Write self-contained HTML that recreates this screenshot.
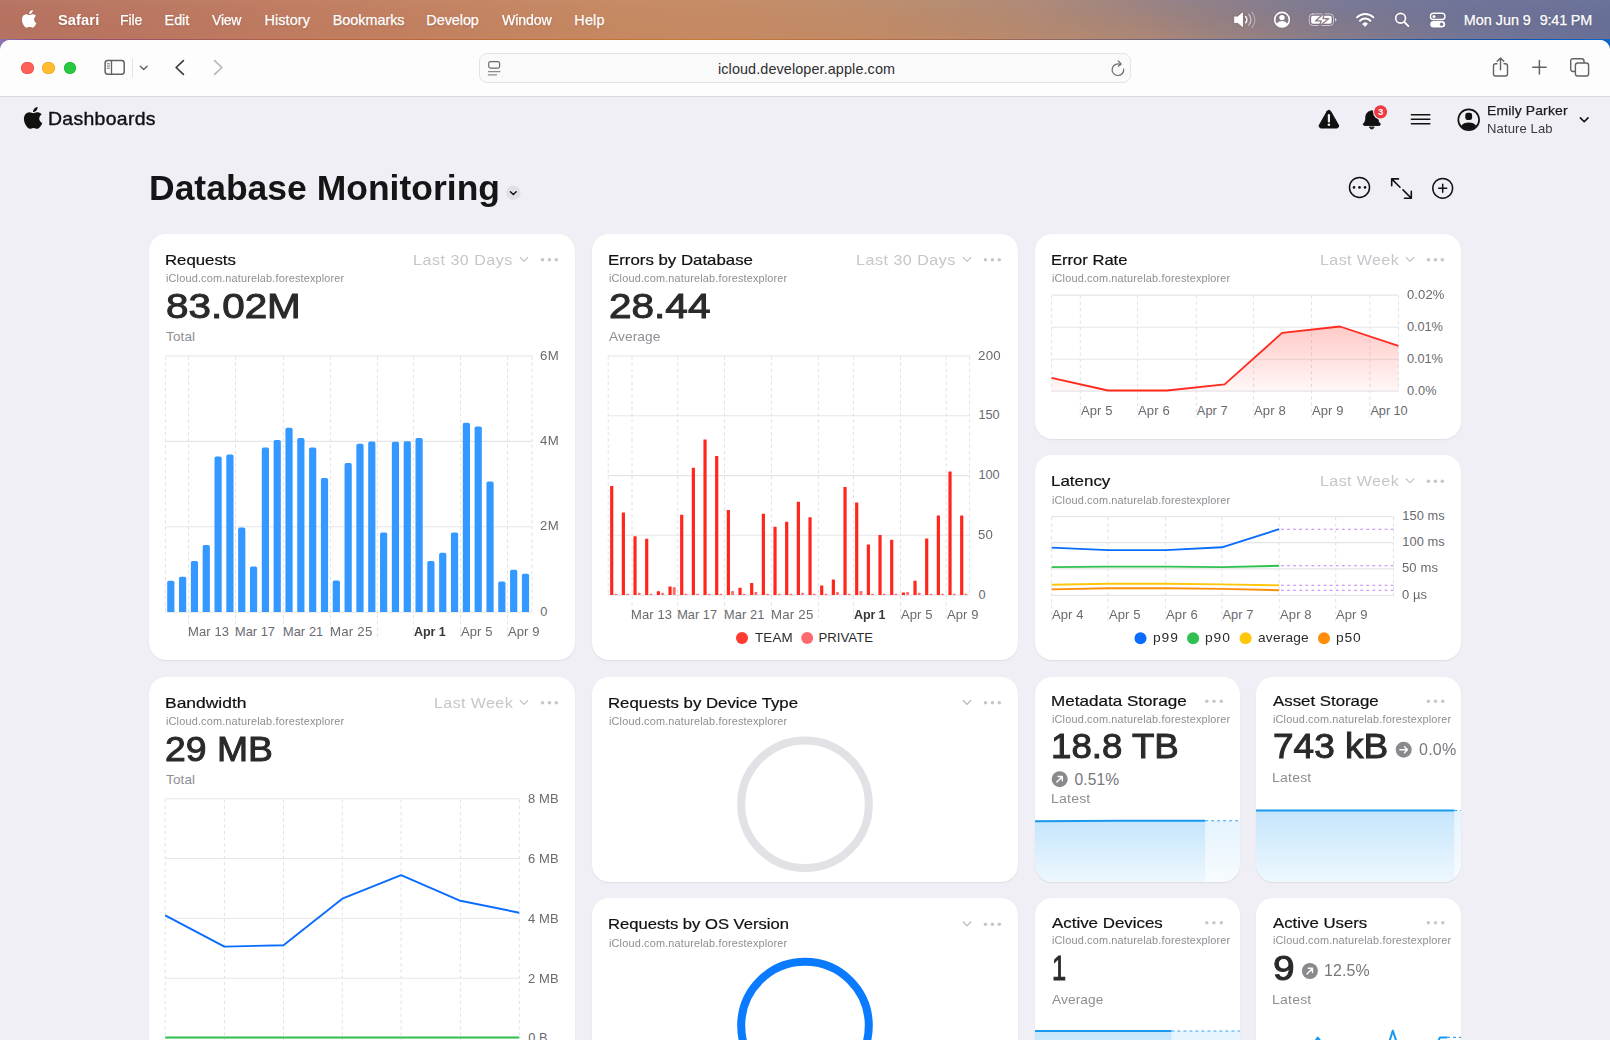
<!DOCTYPE html>
<html lang="en">
<head>
<meta charset="utf-8">
<title>Database Monitoring – Dashboards</title>
<style>
*{box-sizing:border-box;margin:0;padding:0}
html,body{width:1610px;height:1040px;overflow:hidden}
body{position:relative;font-family:"Liberation Sans",sans-serif;background:#f0eff5;color:#1d1d1f;-webkit-font-smoothing:antialiased}
.t{position:absolute;white-space:nowrap;display:block}
svg{position:absolute;overflow:visible}
.menubar{position:absolute;left:0;top:0;width:1610px;height:39px;
 background:linear-gradient(180deg,rgba(255,255,255,.03),rgba(255,255,255,0) 45%,rgba(0,0,0,.04)),linear-gradient(90deg,#b67261 0px,#c07c60 300px,#c68962 620px,#c38b65 750px,#bb8b6c 880px,#ae8876 1030px,#8f7e86 1190px,#757695 1350px,#6d7297 1450px,#686f96 1610px)}
.menubar::before{content:"";position:absolute;left:0;top:0;width:100%;height:100%;background:linear-gradient(90deg,#b67261 0px,#c07c60 300px,#c68962 620px,#c38b65 860px,#bb8b6c 990px,#ae8876 1140px,#8f7e86 1300px,#757695 1460px,#6d7297 1560px,#686f96 1610px);-webkit-mask-image:linear-gradient(180deg,transparent 0,#000 100%);mask-image:linear-gradient(180deg,transparent 0,#000 100%)}
.wall{position:absolute;left:0;top:39px;width:1610px;height:14px;background:linear-gradient(90deg,#8a72b6 0,#8a4a80 40px,#b8643c 330px,#c87a30 700px,#a06a58 1000px,#3a5fa0 1300px,#0a4fa8 1500px,#0d66cc 1610px)}
.window{position:absolute;left:0;top:40px;width:1610px;height:1000px;background:#f0eff5;border-radius:10px 10px 0 0;overflow:hidden}
.toolbar{position:absolute;left:0;top:0;width:100%;height:57px;background:#fdfdfd;border-bottom:1px solid #d9d9dc}
.tl{position:absolute;top:21.5px;width:12.5px;height:12.5px;border-radius:50%}
.urlbar{position:absolute;left:479px;top:13px;width:652px;height:30px;border-radius:8px;background:#fafafa;border:1px solid #e3e3e5}
.page{position:absolute;left:0;top:0;width:1610px;height:1040px;overflow:hidden}
.card{position:absolute;background:#fff;border-radius:17px;box-shadow:0 1px 1.5px rgba(0,0,0,.075),0 0 1px rgba(0,0,0,.04);overflow:hidden}

.menubar .t{text-shadow:0 0.5px 2px rgba(60,20,10,.22)}
.menubar svg{filter:drop-shadow(0 0.5px 1px rgba(60,20,10,.18))}

</style>
</head>
<body>
<div class="wall"></div>
<div class="menubar">
<svg style="left:21.700px;top:9.700px" width="14.600" height="17.800" viewBox="2.300 0 19.600 24" preserveAspectRatio="none"><path fill="#fff" d="M12.152 6.896c-.948 0-2.415-1.078-3.96-1.04-2.04.027-3.91 1.183-4.961 3.014-2.117 3.675-.546 9.103 1.519 12.09 1.013 1.454 2.208 3.09 3.792 3.039 1.52-.065 2.09-.987 3.935-.987 1.831 0 2.35.987 3.96.948 1.637-.026 2.676-1.48 3.676-2.948 1.156-1.688 1.636-3.325 1.662-3.415-.039-.013-3.182-1.221-3.22-4.857-.026-3.04 2.48-4.494 2.597-4.559-1.429-2.09-3.623-2.324-4.39-2.376-2-.156-3.675 1.09-4.61 1.09zM15.53 3.83c.843-1.012 1.4-2.427 1.245-3.83-1.207.052-2.662.805-3.532 1.818-.78.896-1.454 2.338-1.273 3.714 1.338.104 2.715-.688 3.559-1.701"/></svg>
<span class="t" id="t1" style="top:11.96px;font-size:14.40px;line-height:16px;color:#fff;font-weight:700;letter-spacing:0.094px;left:57.70px;transform-origin:0 50%;transform:scaleX(1.0185);">Safari</span>
<span class="t" id="t2" style="top:11.96px;font-size:14.40px;line-height:16px;color:#fff;letter-spacing:-0.128px;-webkit-text-stroke:0.25px #fff;left:119.75px;transform-origin:0 50%;transform:scaleX(0.9750);">File</span>
<span class="t" id="t3" style="top:12px;font-size:14.40px;line-height:16px;color:#fff;letter-spacing:-0.050px;-webkit-text-stroke:0.25px #fff;left:164.62px;">Edit</span>
<span class="t" id="t4" style="top:11.96px;font-size:14.40px;line-height:16px;color:#fff;letter-spacing:-0.204px;-webkit-text-stroke:0.25px #fff;left:212.12px;transform-origin:0 50%;transform:scaleX(0.9719);">View</span>
<span class="t" id="t5" style="top:12px;font-size:14.40px;line-height:16px;color:#fff;letter-spacing:0.112px;-webkit-text-stroke:0.25px #fff;left:264.43px;">History</span>
<span class="t" id="t6" style="top:12px;font-size:14.40px;line-height:16px;color:#fff;letter-spacing:-0.016px;-webkit-text-stroke:0.25px #fff;left:332.73px;">Bookmarks</span>
<span class="t" id="t7" style="top:12px;font-size:14.40px;line-height:16px;color:#fff;letter-spacing:-0.041px;-webkit-text-stroke:0.25px #fff;left:426.32px;">Develop</span>
<span class="t" id="t8" style="top:11.96px;font-size:14.40px;line-height:16px;color:#fff;letter-spacing:-0.117px;-webkit-text-stroke:0.25px #fff;left:502.12px;transform-origin:0 50%;transform:scaleX(0.9834);">Window</span>
<span class="t" id="t9" style="top:12px;font-size:14.40px;line-height:16px;color:#fff;letter-spacing:0.186px;-webkit-text-stroke:0.25px #fff;left:574.33px;">Help</span>
<span class="t" id="t10" style="top:12px;font-size:14.40px;line-height:16px;color:#fff;letter-spacing:-0.005px;-webkit-text-stroke:0.25px #fff;left:1463.72px;">Mon Jun 9</span>
<span class="t" id="t11" style="top:12px;font-size:14.40px;line-height:16px;color:#fff;letter-spacing:-0.176px;-webkit-text-stroke:0.25px #fff;left:1539.72px;">9:41 PM</span>
<svg style="left:0;top:0" width="1610" height="40" viewBox="0 0 1610 40" fill="none" stroke="#fff" stroke-linecap="round" stroke-linejoin="round">
<!-- volume -->
<path d="M1234.6 17h3.2l4.6-4v13.4l-4.6-4h-3.2z" fill="#fff" stroke-width="1"/>
<path d="M1245.6 16.6a4.5 4.5 0 0 1 0 6.2" stroke-width="1.5"/>
<path d="M1248.8 14.3a8 8 0 0 1 0 10.8" stroke-width="1.4" opacity=".55"/>
<path d="M1252 12.2a11.2 11.2 0 0 1 0 15" stroke-width="1.3" opacity=".35"/>
<!-- user -->
<circle cx="1282" cy="19.7" r="7.3" stroke-width="1.6"/>
<circle cx="1282" cy="17.6" r="2.7" fill="#fff" stroke="none"/>
<path d="M1276.6 24.2c1-2.4 3-3.3 5.4-3.3s4.4.9 5.400 3.300c-1.400 1.600-3.300 2.500-5.400 2.500s-4-.9-5.400-2.500z" fill="#fff" stroke="none"/>
<!-- battery -->
<rect x="1309.300" y="13.9" width="24.200" height="11.600" rx="3.400" stroke-width="1" opacity=".6"/>
<rect x="1311.100" y="15.700" width="20.600" height="8" rx="1.900" fill="#fff" stroke="none"/>
<path d="M1335 18v3.400c1.100-.3 1.500-1 1.500-1.700s-.4-1.400-1.500-1.700z" fill="#fff" stroke="none" opacity=".7"/>
<path d="M1324.400 13.100l-9 7.800h5.800l-2.100 5.600 9.700-7.900h-5.800z" fill="#fff" stroke="#8b7b8b" stroke-width="1.300" stroke-linejoin="round"/>
<!-- wifi -->
<path d="M1357 17.400a11.800 11.800 0 0 1 16.400 0" stroke-width="2"/>
<path d="M1360 20.700a7.500 7.500 0 0 1 10.400 0" stroke-width="2"/>
<path d="M1362.900 23.700a3.300 3.300 0 0 1 4.600 0l-2.300 2.500z" fill="#fff" stroke-width="1"/>
<!-- search -->
<circle cx="1400.600" cy="18.300" r="4.900" stroke-width="1.700"/>
<path d="M1404.300 22l4.100 4.100" stroke-width="1.900"/>
<!-- control centre -->
<rect x="1430.400" y="13.300" width="14.600" height="6.200" rx="3.100" stroke-width="1.400"/>
<circle cx="1434" cy="16.400" r="1.500" fill="#fff" stroke="none"/>
<rect x="1430.200" y="20.900" width="15" height="6.600" rx="3.300" fill="#fff" stroke="none"/>
<circle cx="1441.600" cy="24.200" r="1.700" fill="#77769a" stroke="none"/>
</svg>
</div>
<div class="window">
<header class="toolbar">
<i class="tl" style="left:21.2px;background:#fe5f57;box-shadow:inset 0 0 0 .5px #e2463f"></i>
<i class="tl" style="left:42.3px;background:#febc2e;box-shadow:inset 0 0 0 .5px #dea123"></i>
<i class="tl" style="left:63.6px;background:#28c840;box-shadow:inset 0 0 0 .5px #1dad2b"></i>
<svg style="left:0;top:0" width="1610" height="56" viewBox="0 40 1610 56" fill="none" stroke="#626266" stroke-width="1.500" stroke-linecap="round" stroke-linejoin="round">
<!-- sidebar -->
<rect x="105.100" y="60.600" width="19.100" height="13.600" rx="2.600"/>
<path d="M111.500 60.600v13.600" stroke-width="1.300"/>
<path d="M107.300 63.800h2.200M107.300 66h2.200M107.300 68.200h2.200" stroke-width=".9"/>
<path d="M132.500 59v18.300" stroke="#e3e3e5" stroke-width="1"/>
<path d="M140.300 66.200l3.400 3.400 3.400-3.400" stroke-width="1.400"/>
<path d="M183.400 60.600l-7.300 6.900 7.300 6.900" stroke="#3c3c3e" stroke-width="1.700"/>
<path d="M214.600 60.600l7.300 6.900-7.300 6.900" stroke="#b9b9bb" stroke-width="1.700"/>
<!-- share -->
<path d="M1497 63.700h-1.500a2 2 0 0 0-2 2v8.300a2 2 0 0 0 2 2h10a2 2 0 0 0 2-2v-8.300a2 2 0 0 0-2-2h-1.500" stroke-width="1.400"/>
<path d="M1500.500 69.700v-11.400M1497.200 61.300l3.300-3.200 3.300 3.200" stroke-width="1.400"/>
<!-- plus -->
<path d="M1532.700 67.300h13.400M1539.400 60.600v13.400" stroke-width="1.500"/>
<!-- tabs -->
<path d="M1575.200 71.500h-2.300a2.200 2.200 0 0 1-2.200-2.200v-8.400a2.200 2.200 0 0 1 2.200-2.200h8.900a2.200 2.200 0 0 1 2.200 2.200v1.900" stroke-width="1.400"/>
<rect x="1575.400" y="63" width="13.200" height="13" rx="2.300" stroke-width="1.400"/>
</svg>
<div class="urlbar">
<svg style="left:-1px;top:-1px" width="652" height="30" viewBox="479 53 652 30" fill="none" stroke="#6b6b6d" stroke-width="1.200" stroke-linecap="round">
<rect x="488.700" y="61.700" width="10.900" height="6.400" rx="1.800"/>
<path d="M488.400 71.600h11.500M488.400 74.800h8.200" stroke="#8a8a8c" stroke-width="1.300"/>
<path d="M1123.700 69a5.800 5.800 0 1 1-3-4.400" stroke-width="1.200"/>
<path d="M1118.200 60.900l2.900 3.100-2.800 2.400" stroke-width="1.200" stroke-linejoin="round"/>
</svg>
<span class="t" id="t12" style="top:7px;font-size:14.40px;line-height:16px;color:#2e2e30;letter-spacing:0.103px;left:238.00px;">icloud.developer.apple.com</span>
</div>
</header>
</div>
<main class="page">
<nav class="appbar">
<svg style="left:23.700px;top:106.800px" width="18.400" height="21.800" viewBox="2.300 0 19.600 24" preserveAspectRatio="none"><path fill="#111" d="M12.152 6.896c-.948 0-2.415-1.078-3.96-1.04-2.04.027-3.91 1.183-4.961 3.014-2.117 3.675-.546 9.103 1.519 12.09 1.013 1.454 2.208 3.09 3.792 3.039 1.52-.065 2.09-.987 3.935-.987 1.831 0 2.35.987 3.96.948 1.637-.026 2.676-1.48 3.676-2.948 1.156-1.688 1.636-3.325 1.662-3.415-.039-.013-3.182-1.221-3.22-4.857-.026-3.04 2.48-4.494 2.597-4.559-1.429-2.09-3.623-2.324-4.39-2.376-2-.156-3.675 1.09-4.61 1.09zM15.53 3.83c.843-1.012 1.4-2.427 1.245-3.83-1.207.052-2.662.805-3.532 1.818-.78.896-1.454 2.338-1.273 3.714 1.338.104 2.715-.688 3.559-1.701"/></svg>
<span class="t" id="t13" style="top:108.16px;font-size:18.60px;line-height:21px;color:#111113;letter-spacing:0.308px;-webkit-text-stroke:0.40px #111113;left:47.97px;transform-origin:0 50%;transform:scaleX(1.0437);">Dashboards</span>
<svg style="left:0;top:0" width="1610" height="220" viewBox="0 0 1610 220" fill="none" stroke="#111" stroke-linecap="round" stroke-linejoin="round">
<!-- warning -->
<path d="M1327.100 111.400l-7.700 13.600a2 2 0 0 0 1.700 3h15.600a2 2 0 0 0 1.700-3l-7.700-13.600a2 2 0 0 0-3.600 0z" fill="#111" stroke-width="1"/>
<path d="M1328.900 115.200v6.200" stroke="#f0eff5" stroke-width="2.200"/>
<circle cx="1328.900" cy="124.800" r="1.300" fill="#f0eff5" stroke="none"/>
<!-- bell -->
<path d="M1371.800 111c-3.700 0-6 2.800-6 6.400 0 3.600-1.100 5-2.200 6.200-.6.700-.2 1.800.8 1.800h14.800c1 0 1.400-1.100.8-1.800-1.100-1.200-2.200-2.600-2.200-6.200 0-3.600-2.300-6.400-6-6.400z" fill="#111" stroke-width="1"/>
<path d="M1369.500 127.300a2.400 2.400 0 0 0 4.600 0z" fill="#111" stroke-width=".8"/>
<circle cx="1380.600" cy="111.800" r="7.600" fill="#f0eff5" stroke="none"/>
<circle cx="1380.600" cy="111.800" r="6.600" fill="#ee3b43" stroke="none"/>
<!-- hamburger -->
<path d="M1411.400 114.700h18.400M1411.400 119.200h18.400M1411.400 123.700h18.400" stroke-width="1.500"/>
<!-- avatar -->
<circle cx="1468.700" cy="119.700" r="10.400" stroke-width="1.700"/>
<rect x="1465.300" y="112.700" width="6.800" height="7.400" rx="2.400" fill="#111" stroke="none"/>
<path d="M1461 126.100c1.600-2.600 4.400-3.600 7.700-3.600s6.100 1 7.700 3.600c-1.900 2.400-4.700 3.700-7.700 3.700s-5.800-1.300-7.700-3.700z" fill="#111" stroke="none"/>
<path d="M1580.400 117.900l3.800 3.800 3.800-3.800" stroke-width="1.600"/>
<!-- title chevron -->
<circle cx="513.300" cy="192.700" r="7.300" fill="#dfdfe4" stroke="none"/>
<path d="M510.400 191.700l2.900 2.900 2.900-2.900" stroke-width="1.400"/>
<!-- more / expand / add -->
<circle cx="1359.500" cy="187.400" r="10" stroke-width="1.500"/>
<circle cx="1354" cy="187.400" r="1.300" fill="#111" stroke="none"/><circle cx="1359.500" cy="187.400" r="1.300" fill="#111" stroke="none"/><circle cx="1365" cy="187.400" r="1.300" fill="#111" stroke="none"/>
<path d="M1400 187.200l-8.100-8.100M1391.700 185.700v-6.800h6.800" stroke-width="1.600"/>
<path d="M1403 189.900l8.100 8.100M1411.300 191.400v6.800h-6.800" stroke-width="1.600"/>
<circle cx="1442.700" cy="188.300" r="9.900" stroke-width="1.500"/>
<path d="M1438.700 188.300h8M1442.700 184.300v8" stroke-width="1.500"/>
</svg>
<span class="t" id="t14" style="top:106px;font-size:9.50px;line-height:11px;color:#fff;font-weight:700;left:1380.60px;transform:translateX(-50%);">3</span>
<span class="t" id="t15" style="top:103.03px;font-size:13.50px;line-height:15px;color:#1d1d1f;letter-spacing:0.142px;-webkit-text-stroke:0.25px #1d1d1f;left:1487.40px;transform-origin:0 50%;transform:scaleX(1.0317);">Emily Parker</span>
<span class="t" id="t16" style="top:122.15px;font-size:12.70px;line-height:14px;color:#3a3a3c;letter-spacing:0.120px;left:1487.27px;transform-origin:0 50%;transform:scaleX(1.0270);">Nature Lab</span>
</nav>
<span class="t" id="t17" style="top:167.9px;font-size:35.00px;line-height:39px;color:#151517;font-weight:700;left:149.17px;transform-origin:0 50%;transform:scaleX(1.0141);">Database Monitoring</span>
<section class="card" aria-label="Requests" style="left:149px;top:234px;width:426px;height:426px">
<svg style="left:0;top:0" width="426" height="426" viewBox="149 234 426 426">
<circle cx="542.5" cy="259.7" r="1.80" fill="#c6c6cb"/>
<circle cx="549.4" cy="259.7" r="1.80" fill="#c6c6cb"/>
<circle cx="556.3" cy="259.7" r="1.80" fill="#c6c6cb"/>
<path d="M520.3 257.5l3.700 3.900 3.700-3.900" fill="none" stroke="#c6c6cb" stroke-width="1.300" stroke-linecap="round" stroke-linejoin="round"/>
<path d="M165.4 356.5V612.7" stroke="#e0e0e6" stroke-width="1" stroke-dasharray="3.200 3.100" fill="none"/>
<path d="M188.6 356.5V638.7" stroke="#e0e0e6" stroke-width="1" stroke-dasharray="3.200 3.100" fill="none"/>
<path d="M235.5 356.5V638.7" stroke="#e0e0e6" stroke-width="1" stroke-dasharray="3.200 3.100" fill="none"/>
<path d="M283.4 356.5V638.7" stroke="#e0e0e6" stroke-width="1" stroke-dasharray="3.200 3.100" fill="none"/>
<path d="M330.4 356.5V638.7" stroke="#e0e0e6" stroke-width="1" stroke-dasharray="3.200 3.100" fill="none"/>
<path d="M377.4 356.5V638.7" stroke="#e0e0e6" stroke-width="1" stroke-dasharray="3.200 3.100" fill="none"/>
<path d="M413.6 356.5V638.7" stroke="#e0e0e6" stroke-width="1" stroke-dasharray="3.200 3.100" fill="none"/>
<path d="M460.5 356.5V638.7" stroke="#e0e0e6" stroke-width="1" stroke-dasharray="3.200 3.100" fill="none"/>
<path d="M507.5 356.5V638.7" stroke="#e0e0e6" stroke-width="1" stroke-dasharray="3.200 3.100" fill="none"/>
<path d="M532.0 356.5V612.7" stroke="#e0e0e6" stroke-width="1" stroke-dasharray="3.200 3.100" fill="none"/>
<path d="M165.4 356.0H532.0" stroke="#e6e6ea" stroke-width="1.100" fill="none"/>
<path d="M165.4 441.4H532.0" stroke="#e6e6ea" stroke-width="1.100" fill="none"/>
<path d="M165.4 526.8H532.0" stroke="#e6e6ea" stroke-width="1.100" fill="none"/>
<path d="M165.4 612.2H532.0" stroke="#e6e6ea" stroke-width="1.100" fill="none"/>
<path d="M167.20 612.0V582.49a1.700 1.700 0 0 1 1.700-1.700h3.800a1.700 1.700 0 0 1 1.700 1.700V612.0z" fill="#3398ff"/>
<path d="M179.02 612.0V578.37a1.700 1.700 0 0 1 1.700-1.700h3.800a1.700 1.700 0 0 1 1.700 1.700V612.0z" fill="#3398ff"/>
<path d="M190.85 612.0V562.82a1.700 1.700 0 0 1 1.700-1.700h3.800a1.700 1.700 0 0 1 1.700 1.700V612.0z" fill="#3398ff"/>
<path d="M202.67 612.0V546.63a1.700 1.700 0 0 1 1.700-1.700h3.800a1.700 1.700 0 0 1 1.700 1.700V612.0z" fill="#3398ff"/>
<path d="M214.49 612.0V458.09a1.700 1.700 0 0 1 1.700-1.700h3.800a1.700 1.700 0 0 1 1.700 1.700V612.0z" fill="#3398ff"/>
<path d="M226.32 612.0V456.18a1.700 1.700 0 0 1 1.700-1.700h3.800a1.700 1.700 0 0 1 1.700 1.700V612.0z" fill="#3398ff"/>
<path d="M238.14 612.0V529.18a1.700 1.700 0 0 1 1.700-1.700h3.800a1.700 1.700 0 0 1 1.700 1.700V612.0z" fill="#3398ff"/>
<path d="M249.96 612.0V568.21a1.700 1.700 0 0 1 1.700-1.700h3.800a1.700 1.700 0 0 1 1.700 1.700V612.0z" fill="#3398ff"/>
<path d="M261.79 612.0V449.20a1.700 1.700 0 0 1 1.700-1.700h3.800a1.700 1.700 0 0 1 1.700 1.700V612.0z" fill="#3398ff"/>
<path d="M273.61 612.0V441.59a1.700 1.700 0 0 1 1.700-1.700h3.800a1.700 1.700 0 0 1 1.700 1.700V612.0z" fill="#3398ff"/>
<path d="M285.43 612.0V429.53a1.700 1.700 0 0 1 1.700-1.700h3.800a1.700 1.700 0 0 1 1.700 1.700V612.0z" fill="#3398ff"/>
<path d="M297.26 612.0V439.68a1.700 1.700 0 0 1 1.700-1.700h3.800a1.700 1.700 0 0 1 1.700 1.700V612.0z" fill="#3398ff"/>
<path d="M309.08 612.0V449.20a1.700 1.700 0 0 1 1.700-1.700h3.800a1.700 1.700 0 0 1 1.700 1.700V612.0z" fill="#3398ff"/>
<path d="M320.90 612.0V479.67a1.700 1.700 0 0 1 1.700-1.700h3.800a1.700 1.700 0 0 1 1.700 1.700V612.0z" fill="#3398ff"/>
<path d="M332.73 612.0V582.18a1.700 1.700 0 0 1 1.700-1.700h3.800a1.700 1.700 0 0 1 1.700 1.700V612.0z" fill="#3398ff"/>
<path d="M344.55 612.0V464.75a1.700 1.700 0 0 1 1.700-1.700h3.800a1.700 1.700 0 0 1 1.700 1.700V612.0z" fill="#3398ff"/>
<path d="M356.37 612.0V445.39a1.700 1.700 0 0 1 1.700-1.700h3.800a1.700 1.700 0 0 1 1.700 1.700V612.0z" fill="#3398ff"/>
<path d="M368.20 612.0V443.17a1.700 1.700 0 0 1 1.700-1.700h3.800a1.700 1.700 0 0 1 1.700 1.700V612.0z" fill="#3398ff"/>
<path d="M380.02 612.0V534.25a1.700 1.700 0 0 1 1.700-1.700h3.800a1.700 1.700 0 0 1 1.700 1.700V612.0z" fill="#3398ff"/>
<path d="M391.84 612.0V443.49a1.700 1.700 0 0 1 1.700-1.700h3.800a1.700 1.700 0 0 1 1.700 1.700V612.0z" fill="#3398ff"/>
<path d="M403.67 612.0V442.86a1.700 1.700 0 0 1 1.700-1.700h3.800a1.700 1.700 0 0 1 1.700 1.700V612.0z" fill="#3398ff"/>
<path d="M415.49 612.0V439.68a1.700 1.700 0 0 1 1.700-1.700h3.800a1.700 1.700 0 0 1 1.700 1.700V612.0z" fill="#3398ff"/>
<path d="M427.31 612.0V562.82a1.700 1.700 0 0 1 1.700-1.700h3.800a1.700 1.700 0 0 1 1.700 1.700V612.0z" fill="#3398ff"/>
<path d="M439.14 612.0V554.57a1.700 1.700 0 0 1 1.700-1.700h3.800a1.700 1.700 0 0 1 1.700 1.700V612.0z" fill="#3398ff"/>
<path d="M450.96 612.0V534.25a1.700 1.700 0 0 1 1.700-1.700h3.800a1.700 1.700 0 0 1 1.700 1.700V612.0z" fill="#3398ff"/>
<path d="M462.78 612.0V424.45a1.700 1.700 0 0 1 1.700-1.700h3.800a1.700 1.700 0 0 1 1.700 1.700V612.0z" fill="#3398ff"/>
<path d="M474.61 612.0V428.26a1.700 1.700 0 0 1 1.700-1.700h3.800a1.700 1.700 0 0 1 1.700 1.700V612.0z" fill="#3398ff"/>
<path d="M486.43 612.0V483.16a1.700 1.700 0 0 1 1.700-1.700h3.800a1.700 1.700 0 0 1 1.700 1.700V612.0z" fill="#3398ff"/>
<path d="M498.25 612.0V583.13a1.700 1.700 0 0 1 1.700-1.700h3.800a1.700 1.700 0 0 1 1.700 1.700V612.0z" fill="#3398ff"/>
<path d="M510.08 612.0V571.39a1.700 1.700 0 0 1 1.700-1.700h3.800a1.700 1.700 0 0 1 1.700 1.700V612.0z" fill="#3398ff"/>
<path d="M521.90 612.0V575.51a1.700 1.700 0 0 1 1.700-1.700h3.800a1.700 1.700 0 0 1 1.700 1.700V612.0z" fill="#3398ff"/>
</svg>
<span class="t" id="t18" style="top:17.6px;font-size:14.60px;line-height:16px;color:#111113;-webkit-text-stroke:0.20px #111113;left:15.77px;transform-origin:0 50%;transform:scaleX(1.1493);">Requests</span>
<span class="t" id="t19" style="top:39px;font-size:10.40px;line-height:11px;color:#8e8e93;letter-spacing:0.153px;left:16.60px;transform-origin:0 50%;transform:scaleX(1.0496);">iCloud.com.naturelab.forestexplorer</span>
<span class="t" id="t20" style="top:16.9px;font-size:15.30px;line-height:17px;color:#c6c6cb;letter-spacing:0.488px;left:264.15px;transform-origin:0 50%;transform:scaleX(1.0500);">Last 30 Days</span>
<span class="t" id="t21" style="top:52.5px;font-size:34.60px;line-height:38px;color:#2a2a2c;-webkit-text-stroke:1.00px #2a2a2c;left:16.82px;transform-origin:0 50%;transform:scaleX(1.1686);">83.02M</span>
<span class="t" id="t22" style="top:95px;font-size:13.50px;line-height:15px;color:#8e8e93;letter-spacing:0.121px;left:17.10px;">Total</span>
<span class="t" id="t23" style="top:113.5px;font-size:12.80px;line-height:15px;color:#6a6a6f;letter-spacing:0.343px;left:391.20px;transform-origin:0 50%;transform:scaleX(1.0310);">6M</span>
<span class="t" id="t24" style="top:198.9px;font-size:12.80px;line-height:15px;color:#6a6a6f;letter-spacing:0.343px;left:391.20px;transform-origin:0 50%;transform:scaleX(1.0310);">4M</span>
<span class="t" id="t25" style="top:284.3px;font-size:12.80px;line-height:15px;color:#6a6a6f;letter-spacing:0.343px;left:391.20px;transform-origin:0 50%;transform:scaleX(1.0310);">2M</span>
<span class="t" id="t26" style="top:370px;font-size:12.80px;line-height:15px;color:#6a6a6f;left:391.20px;">0</span>
<span class="t" id="t27" style="top:390.1px;font-size:12.80px;line-height:15px;color:#6a6a6f;letter-spacing:0.093px;left:39.08px;transform-origin:0 50%;transform:scaleX(1.0184);">Mar 13</span>
<span class="t" id="t28" style="top:390px;font-size:12.80px;line-height:15px;color:#6a6a6f;letter-spacing:0.018px;left:86.00px;">Mar 17</span>
<span class="t" id="t29" style="top:390px;font-size:12.80px;line-height:15px;color:#6a6a6f;letter-spacing:0.098px;left:133.90px;">Mar 21</span>
<span class="t" id="t30" style="top:390.1px;font-size:12.80px;line-height:15px;color:#6a6a6f;letter-spacing:0.184px;left:180.86px;transform-origin:0 50%;transform:scaleX(1.0370);">Mar 25</span>
<span class="t" id="t31" style="top:390.1px;font-size:12.80px;line-height:15px;color:#38383a;font-weight:700;letter-spacing:-0.112px;left:265.00px;transform-origin:0 50%;transform:scaleX(0.9799);">Apr 1</span>
<span class="t" id="t32" style="top:390.1px;font-size:12.80px;line-height:15px;color:#6a6a6f;letter-spacing:0.091px;left:312.00px;transform-origin:0 50%;transform:scaleX(1.0183);">Apr 5</span>
<span class="t" id="t33" style="top:390.1px;font-size:12.80px;line-height:15px;color:#6a6a6f;letter-spacing:0.091px;left:359.00px;transform-origin:0 50%;transform:scaleX(1.0183);">Apr 9</span>
</section>
<section class="card" aria-label="Errors by Database" style="left:592px;top:234px;width:426px;height:426px">
<svg style="left:0;top:0" width="426" height="426" viewBox="592 234 426 426">
<circle cx="985.5" cy="259.7" r="1.80" fill="#c6c6cb"/>
<circle cx="992.4" cy="259.7" r="1.80" fill="#c6c6cb"/>
<circle cx="999.3" cy="259.7" r="1.80" fill="#c6c6cb"/>
<path d="M963.3 257.5l3.700 3.900 3.700-3.900" fill="none" stroke="#c6c6cb" stroke-width="1.300" stroke-linecap="round" stroke-linejoin="round"/>
<path d="M608.2 356.5V595.6" stroke="#e0e0e6" stroke-width="1" stroke-dasharray="3.200 3.100" fill="none"/>
<path d="M632.0 356.5V621.6" stroke="#e0e0e6" stroke-width="1" stroke-dasharray="3.200 3.100" fill="none"/>
<path d="M677.7 356.5V621.6" stroke="#e0e0e6" stroke-width="1" stroke-dasharray="3.200 3.100" fill="none"/>
<path d="M724.5 356.5V621.6" stroke="#e0e0e6" stroke-width="1" stroke-dasharray="3.200 3.100" fill="none"/>
<path d="M771.4 356.5V621.6" stroke="#e0e0e6" stroke-width="1" stroke-dasharray="3.200 3.100" fill="none"/>
<path d="M818.4 356.5V621.6" stroke="#e0e0e6" stroke-width="1" stroke-dasharray="3.200 3.100" fill="none"/>
<path d="M853.4 356.5V621.6" stroke="#e0e0e6" stroke-width="1" stroke-dasharray="3.200 3.100" fill="none"/>
<path d="M900.5 356.5V621.6" stroke="#e0e0e6" stroke-width="1" stroke-dasharray="3.200 3.100" fill="none"/>
<path d="M946.2 356.5V621.6" stroke="#e0e0e6" stroke-width="1" stroke-dasharray="3.200 3.100" fill="none"/>
<path d="M969.6 356.5V595.6" stroke="#e0e0e6" stroke-width="1" stroke-dasharray="3.200 3.100" fill="none"/>
<path d="M608.2 356.0H969.6" stroke="#e6e6ea" stroke-width="1.100" fill="none"/>
<path d="M608.2 415.8H969.6" stroke="#e6e6ea" stroke-width="1.100" fill="none"/>
<path d="M608.2 475.6H969.6" stroke="#e6e6ea" stroke-width="1.100" fill="none"/>
<path d="M608.2 535.3H969.6" stroke="#e6e6ea" stroke-width="1.100" fill="none"/>
<path d="M608.2 595.1H969.6" stroke="#e6e6ea" stroke-width="1.100" fill="none"/>
<rect x="610.10" y="486.1" width="3.200" height="108.9" rx=".3" fill="#ff261c"/>
<rect x="614.45" y="593.8" width="2.900" height="1.2" rx=".9" fill="#ff6b6b"/>
<rect x="621.77" y="512.5" width="3.200" height="82.5" rx=".3" fill="#ff261c"/>
<rect x="626.12" y="593.8" width="2.900" height="1.2" rx=".9" fill="#ff6b6b"/>
<rect x="633.43" y="536.3" width="3.200" height="58.7" rx=".3" fill="#ff261c"/>
<rect x="637.78" y="592.8" width="2.900" height="2.2" rx=".9" fill="#ff6b6b"/>
<rect x="645.10" y="538.8" width="3.200" height="56.2" rx=".3" fill="#ff261c"/>
<rect x="649.45" y="593.8" width="2.900" height="1.2" rx=".9" fill="#ff6b6b"/>
<rect x="656.77" y="591.2" width="3.200" height="3.8" rx=".3" fill="#ff261c"/>
<rect x="661.12" y="592.8" width="2.900" height="2.2" rx=".9" fill="#ff6b6b"/>
<rect x="668.43" y="586.4" width="3.200" height="8.6" rx=".3" fill="#ff261c"/>
<rect x="672.78" y="587.1" width="2.900" height="7.9" rx=".9" fill="#ff6b6b"/>
<rect x="680.10" y="514.7" width="3.200" height="80.3" rx=".3" fill="#ff261c"/>
<rect x="684.45" y="593.8" width="2.900" height="1.2" rx=".9" fill="#ff6b6b"/>
<rect x="691.77" y="467.7" width="3.200" height="127.3" rx=".3" fill="#ff261c"/>
<rect x="696.12" y="593.8" width="2.900" height="1.2" rx=".9" fill="#ff6b6b"/>
<rect x="703.43" y="439.5" width="3.200" height="155.5" rx=".3" fill="#ff261c"/>
<rect x="707.78" y="593.8" width="2.900" height="1.2" rx=".9" fill="#ff6b6b"/>
<rect x="715.10" y="456.0" width="3.200" height="139.0" rx=".3" fill="#ff261c"/>
<rect x="719.45" y="593.8" width="2.900" height="1.2" rx=".9" fill="#ff6b6b"/>
<rect x="726.77" y="509.9" width="3.200" height="85.1" rx=".3" fill="#ff261c"/>
<rect x="731.12" y="590.9" width="2.900" height="4.1" rx=".9" fill="#ff6b6b"/>
<rect x="738.43" y="587.7" width="3.200" height="7.3" rx=".3" fill="#ff261c"/>
<rect x="742.78" y="593.8" width="2.900" height="1.2" rx=".9" fill="#ff6b6b"/>
<rect x="750.10" y="582.9" width="3.200" height="12.1" rx=".3" fill="#ff261c"/>
<rect x="754.45" y="591.9" width="2.900" height="3.1" rx=".9" fill="#ff6b6b"/>
<rect x="761.77" y="513.7" width="3.200" height="81.3" rx=".3" fill="#ff261c"/>
<rect x="766.12" y="593.8" width="2.900" height="1.2" rx=".9" fill="#ff6b6b"/>
<rect x="773.43" y="526.7" width="3.200" height="68.3" rx=".3" fill="#ff261c"/>
<rect x="777.78" y="593.8" width="2.900" height="1.2" rx=".9" fill="#ff6b6b"/>
<rect x="785.10" y="521.7" width="3.200" height="73.3" rx=".3" fill="#ff261c"/>
<rect x="789.45" y="593.8" width="2.900" height="1.2" rx=".9" fill="#ff6b6b"/>
<rect x="796.77" y="501.7" width="3.200" height="93.3" rx=".3" fill="#ff261c"/>
<rect x="801.12" y="592.8" width="2.900" height="2.2" rx=".9" fill="#ff6b6b"/>
<rect x="808.43" y="517.2" width="3.200" height="77.8" rx=".3" fill="#ff261c"/>
<rect x="812.78" y="593.8" width="2.900" height="1.2" rx=".9" fill="#ff6b6b"/>
<rect x="820.10" y="585.5" width="3.200" height="9.5" rx=".3" fill="#ff261c"/>
<rect x="824.45" y="593.8" width="2.900" height="1.2" rx=".9" fill="#ff6b6b"/>
<rect x="831.77" y="579.4" width="3.200" height="15.6" rx=".3" fill="#ff261c"/>
<rect x="836.12" y="591.9" width="2.900" height="3.1" rx=".9" fill="#ff6b6b"/>
<rect x="843.43" y="487.1" width="3.200" height="107.9" rx=".3" fill="#ff261c"/>
<rect x="847.78" y="593.8" width="2.900" height="1.2" rx=".9" fill="#ff6b6b"/>
<rect x="855.10" y="502.6" width="3.200" height="92.4" rx=".3" fill="#ff261c"/>
<rect x="859.45" y="590.9" width="2.900" height="4.1" rx=".9" fill="#ff6b6b"/>
<rect x="866.77" y="544.5" width="3.200" height="50.5" rx=".3" fill="#ff261c"/>
<rect x="871.12" y="593.8" width="2.900" height="1.2" rx=".9" fill="#ff6b6b"/>
<rect x="878.43" y="535.0" width="3.200" height="60.0" rx=".3" fill="#ff261c"/>
<rect x="882.78" y="593.8" width="2.900" height="1.2" rx=".9" fill="#ff6b6b"/>
<rect x="890.10" y="539.8" width="3.200" height="55.2" rx=".3" fill="#ff261c"/>
<rect x="894.45" y="593.8" width="2.900" height="1.2" rx=".9" fill="#ff6b6b"/>
<rect x="901.77" y="592.4" width="3.200" height="2.6" rx=".3" fill="#ff261c"/>
<rect x="906.12" y="591.9" width="2.900" height="3.1" rx=".9" fill="#ff6b6b"/>
<rect x="913.43" y="580.7" width="3.200" height="14.3" rx=".3" fill="#ff261c"/>
<rect x="917.78" y="592.8" width="2.900" height="2.2" rx=".9" fill="#ff6b6b"/>
<rect x="925.10" y="538.5" width="3.200" height="56.5" rx=".3" fill="#ff261c"/>
<rect x="929.45" y="593.8" width="2.900" height="1.2" rx=".9" fill="#ff6b6b"/>
<rect x="936.77" y="515.6" width="3.200" height="79.4" rx=".3" fill="#ff261c"/>
<rect x="941.12" y="593.8" width="2.900" height="1.2" rx=".9" fill="#ff6b6b"/>
<rect x="948.43" y="471.5" width="3.200" height="123.5" rx=".3" fill="#ff261c"/>
<rect x="952.78" y="593.8" width="2.900" height="1.2" rx=".9" fill="#ff6b6b"/>
<rect x="960.10" y="515.6" width="3.200" height="79.4" rx=".3" fill="#ff261c"/>
<rect x="964.45" y="593.8" width="2.900" height="1.2" rx=".9" fill="#ff6b6b"/>
<circle cx="742.0" cy="637.9" r="6" fill="#ff3a30"/>
<circle cx="807.2" cy="637.9" r="6" fill="#ff6a6e"/>
</svg>
<span class="t" id="t34" style="top:17.6px;font-size:14.60px;line-height:16px;color:#111113;-webkit-text-stroke:0.20px #111113;left:15.76px;transform-origin:0 50%;transform:scaleX(1.1530);">Errors by Database</span>
<span class="t" id="t35" style="top:39px;font-size:10.40px;line-height:11px;color:#8e8e93;letter-spacing:0.153px;left:16.60px;transform-origin:0 50%;transform:scaleX(1.0496);">iCloud.com.naturelab.forestexplorer</span>
<span class="t" id="t36" style="top:16.9px;font-size:15.30px;line-height:17px;color:#c6c6cb;letter-spacing:0.488px;left:264.15px;transform-origin:0 50%;transform:scaleX(1.0500);">Last 30 Days</span>
<span class="t" id="t37" style="top:52.5px;font-size:34.60px;line-height:38px;color:#2a2a2c;-webkit-text-stroke:1.00px #2a2a2c;left:17.01px;transform-origin:0 50%;transform:scaleX(1.1727);">28.44</span>
<span class="t" id="t38" style="top:95.3px;font-size:13.50px;line-height:15px;color:#8e8e93;letter-spacing:0.083px;left:16.60px;transform-origin:0 50%;transform:scaleX(1.0154);">Average</span>
<span class="t" id="t39" style="top:113.5px;font-size:12.80px;line-height:15px;color:#6a6a6f;letter-spacing:0.263px;left:386.40px;transform-origin:0 50%;transform:scaleX(1.0386);">200</span>
<span class="t" id="t40" style="top:173px;font-size:12.80px;line-height:15px;color:#6a6a6f;letter-spacing:-0.017px;left:386.40px;">150</span>
<span class="t" id="t41" style="top:233px;font-size:12.80px;line-height:15px;color:#6a6a6f;letter-spacing:-0.017px;left:386.40px;">100</span>
<span class="t" id="t42" style="top:292.8px;font-size:12.80px;line-height:15px;color:#6a6a6f;letter-spacing:0.265px;left:386.40px;transform-origin:0 50%;transform:scaleX(1.0290);">50</span>
<span class="t" id="t43" style="top:353px;font-size:12.80px;line-height:15px;color:#6a6a6f;left:386.40px;">0</span>
<span class="t" id="t44" style="top:372.8px;font-size:12.80px;line-height:15px;color:#6a6a6f;letter-spacing:0.093px;left:39.18px;transform-origin:0 50%;transform:scaleX(1.0184);">Mar 13</span>
<span class="t" id="t45" style="top:373px;font-size:12.80px;line-height:15px;color:#6a6a6f;letter-spacing:0.018px;left:85.20px;">Mar 17</span>
<span class="t" id="t46" style="top:373px;font-size:12.80px;line-height:15px;color:#6a6a6f;letter-spacing:0.098px;left:132.00px;">Mar 21</span>
<span class="t" id="t47" style="top:372.8px;font-size:12.80px;line-height:15px;color:#6a6a6f;letter-spacing:0.184px;left:178.86px;transform-origin:0 50%;transform:scaleX(1.0370);">Mar 25</span>
<span class="t" id="t48" style="top:372.8px;font-size:12.80px;line-height:15px;color:#38383a;font-weight:700;letter-spacing:-0.133px;left:261.80px;transform-origin:0 50%;transform:scaleX(0.9762);">Apr 1</span>
<span class="t" id="t49" style="top:372.8px;font-size:12.80px;line-height:15px;color:#6a6a6f;letter-spacing:0.091px;left:309.00px;transform-origin:0 50%;transform:scaleX(1.0183);">Apr 5</span>
<span class="t" id="t50" style="top:372.8px;font-size:12.80px;line-height:15px;color:#6a6a6f;letter-spacing:0.091px;left:354.70px;transform-origin:0 50%;transform:scaleX(1.0183);">Apr 9</span>
<span class="t" id="t51" style="top:395.8px;font-size:13.20px;line-height:15px;color:#2c2c2e;letter-spacing:0.138px;left:162.90px;transform-origin:0 50%;transform:scaleX(1.0177);">TEAM</span>
<span class="t" id="t52" style="top:396px;font-size:13.20px;line-height:15px;color:#2c2c2e;letter-spacing:0.005px;left:226.50px;">PRIVATE</span>
</section>
<section class="card" aria-label="Error Rate" style="left:1035px;top:234px;width:426px;height:205px">
<svg style="left:0;top:0" width="426" height="205" viewBox="1035 234 426 205">
<circle cx="1428.5" cy="259.7" r="1.80" fill="#c6c6cb"/>
<circle cx="1435.4" cy="259.7" r="1.80" fill="#c6c6cb"/>
<circle cx="1442.3" cy="259.7" r="1.80" fill="#c6c6cb"/>
<path d="M1406.3 257.5l3.700 3.900 3.700-3.900" fill="none" stroke="#c6c6cb" stroke-width="1.300" stroke-linecap="round" stroke-linejoin="round"/>
<defs><linearGradient id="er" x1="0" y1="0" x2="0" y2="1"><stop offset="0" stop-color="#ff3b30" stop-opacity=".27"/><stop offset="1" stop-color="#ff3b30" stop-opacity=".04"/></linearGradient></defs>
<path d="M1051.6 295.6V391.6" stroke="#e0e0e6" stroke-width="1" stroke-dasharray="3.200 3.100" fill="none"/>
<path d="M1080.3 295.6V417.6" stroke="#e0e0e6" stroke-width="1" stroke-dasharray="3.200 3.100" fill="none"/>
<path d="M1137.6 295.6V417.6" stroke="#e0e0e6" stroke-width="1" stroke-dasharray="3.200 3.100" fill="none"/>
<path d="M1196.3 295.6V417.6" stroke="#e0e0e6" stroke-width="1" stroke-dasharray="3.200 3.100" fill="none"/>
<path d="M1253.6 295.6V417.6" stroke="#e0e0e6" stroke-width="1" stroke-dasharray="3.200 3.100" fill="none"/>
<path d="M1311.5 295.6V417.6" stroke="#e0e0e6" stroke-width="1" stroke-dasharray="3.200 3.100" fill="none"/>
<path d="M1369.9 295.6V417.6" stroke="#e0e0e6" stroke-width="1" stroke-dasharray="3.200 3.100" fill="none"/>
<path d="M1398.4 295.6V391.6" stroke="#e0e0e6" stroke-width="1" stroke-dasharray="3.200 3.100" fill="none"/>
<path d="M1051.6 295.1H1398.4" stroke="#e6e6ea" stroke-width="1.100" fill="none"/>
<path d="M1051.6 327.3H1398.4" stroke="#e6e6ea" stroke-width="1.100" fill="none"/>
<path d="M1051.6 359.3H1398.4" stroke="#e6e6ea" stroke-width="1.100" fill="none"/>
<path d="M1051.6 391.1H1398.4" stroke="#e6e6ea" stroke-width="1.100" fill="none"/>
<path d="M1051.6 377.9 L1108.0 390.5 L1167.0 390.5 L1224.6 384.3 L1282.1 332.9 L1340.0 326.5 L1398.4 345.9 L1398.400 391.100 L1051.600 391.100z" fill="url(#er)"/>
<path d="M1051.6 377.9 L1108.0 390.5 L1167.0 390.5 L1224.6 384.3 L1282.1 332.9 L1340.0 326.5 L1398.4 345.9" fill="none" stroke="#ff2a1f" stroke-width="1.800" stroke-linejoin="round"/>
</svg>
<span class="t" id="t53" style="top:17.6px;font-size:14.60px;line-height:16px;color:#111113;-webkit-text-stroke:0.20px #111113;left:15.78px;transform-origin:0 50%;transform:scaleX(1.1356);">Error Rate</span>
<span class="t" id="t54" style="top:39px;font-size:10.40px;line-height:11px;color:#8e8e93;letter-spacing:0.153px;left:16.60px;transform-origin:0 50%;transform:scaleX(1.0496);">iCloud.com.naturelab.forestexplorer</span>
<span class="t" id="t55" style="top:16.9px;font-size:15.30px;line-height:17px;color:#c6c6cb;letter-spacing:0.368px;left:284.85px;transform-origin:0 50%;transform:scaleX(1.0500);">Last Week</span>
<span class="t" id="t56" style="top:52.6px;font-size:12.80px;line-height:15px;color:#6a6a6f;letter-spacing:0.107px;left:372.10px;transform-origin:0 50%;transform:scaleX(1.0183);">0.02%</span>
<span class="t" id="t57" style="top:85px;font-size:12.80px;line-height:15px;color:#6a6a6f;letter-spacing:-0.152px;left:372.10px;">0.01%</span>
<span class="t" id="t58" style="top:117px;font-size:12.80px;line-height:15px;color:#6a6a6f;letter-spacing:-0.152px;left:372.10px;">0.01%</span>
<span class="t" id="t59" style="top:149px;font-size:12.80px;line-height:15px;color:#6a6a6f;letter-spacing:0.137px;left:372.10px;">0.0%</span>
<span class="t" id="t60" style="top:168.6px;font-size:12.80px;line-height:15px;color:#6a6a6f;letter-spacing:0.091px;left:45.80px;transform-origin:0 50%;transform:scaleX(1.0183);">Apr 5</span>
<span class="t" id="t61" style="top:168.6px;font-size:12.80px;line-height:15px;color:#6a6a6f;letter-spacing:0.111px;left:103.10px;transform-origin:0 50%;transform:scaleX(1.0223);">Apr 6</span>
<span class="t" id="t62" style="top:169px;font-size:12.80px;line-height:15px;color:#6a6a6f;letter-spacing:0.083px;left:161.80px;">Apr 7</span>
<span class="t" id="t63" style="top:168.6px;font-size:12.80px;line-height:15px;color:#6a6a6f;letter-spacing:0.111px;left:219.10px;transform-origin:0 50%;transform:scaleX(1.0223);">Apr 8</span>
<span class="t" id="t64" style="top:168.6px;font-size:12.80px;line-height:15px;color:#6a6a6f;letter-spacing:0.091px;left:277.00px;transform-origin:0 50%;transform:scaleX(1.0183);">Apr 9</span>
<span class="t" id="t65" style="top:169px;font-size:12.80px;line-height:15px;color:#6a6a6f;letter-spacing:-0.077px;left:335.40px;">Apr 10</span>
</section>
<section class="card" aria-label="Latency" style="left:1035px;top:455px;width:426px;height:205px">
<svg style="left:0;top:0" width="426" height="205" viewBox="1035 455 426 205">
<circle cx="1428.5" cy="481.2" r="1.80" fill="#c6c6cb"/>
<circle cx="1435.4" cy="481.2" r="1.80" fill="#c6c6cb"/>
<circle cx="1442.3" cy="481.2" r="1.80" fill="#c6c6cb"/>
<path d="M1406.3 479.0l3.700 3.900 3.700-3.900" fill="none" stroke="#c6c6cb" stroke-width="1.300" stroke-linecap="round" stroke-linejoin="round"/>
<path d="M1051.6 517.1V621.4" stroke="#e0e0e6" stroke-width="1" stroke-dasharray="3.200 3.100" fill="none"/>
<path d="M1108.0 517.1V621.4" stroke="#e0e0e6" stroke-width="1" stroke-dasharray="3.200 3.100" fill="none"/>
<path d="M1165.6 517.1V621.4" stroke="#e0e0e6" stroke-width="1" stroke-dasharray="3.200 3.100" fill="none"/>
<path d="M1222.0 517.1V621.4" stroke="#e0e0e6" stroke-width="1" stroke-dasharray="3.200 3.100" fill="none"/>
<path d="M1279.2 517.1V621.4" stroke="#e0e0e6" stroke-width="1" stroke-dasharray="3.200 3.100" fill="none"/>
<path d="M1335.7 517.1V621.4" stroke="#e0e0e6" stroke-width="1" stroke-dasharray="3.200 3.100" fill="none"/>
<path d="M1393.5 517.1V595.9" stroke="#e0e0e6" stroke-width="1" stroke-dasharray="3.200 3.100" fill="none"/>
<path d="M1051.6 516.6H1393.5" stroke="#e6e6ea" stroke-width="1.100" fill="none"/>
<path d="M1051.6 542.6H1393.5" stroke="#e6e6ea" stroke-width="1.100" fill="none"/>
<path d="M1051.6 568.9H1393.5" stroke="#e6e6ea" stroke-width="1.100" fill="none"/>
<path d="M1051.6 595.4H1393.5" stroke="#e6e6ea" stroke-width="1.100" fill="none"/>
<path d="M1281.0 529.2H1393.5" fill="none" stroke="#bf7ff7" stroke-width="1.100" stroke-dasharray="2.700 3.400"/>
<path d="M1281.0 565.8H1393.5" fill="none" stroke="#bf7ff7" stroke-width="1.100" stroke-dasharray="2.700 3.400"/>
<path d="M1281.0 585.3H1393.5" fill="none" stroke="#bf7ff7" stroke-width="1.100" stroke-dasharray="2.700 3.400"/>
<path d="M1281.0 590.2H1393.5" fill="none" stroke="#bf7ff7" stroke-width="1.100" stroke-dasharray="2.700 3.400"/>
<path d="M1051.6 547.6 L1108.0 550.1 L1165.6 550.1 L1222.0 547.3 L1279.2 529.2" fill="none" stroke="#0a6cff" stroke-width="1.900" stroke-linejoin="round"/>
<path d="M1051.6 567.1 L1108.0 566.6 L1165.6 566.6 L1222.0 567.1 L1279.2 565.8" fill="none" stroke="#30c04f" stroke-width="1.900" stroke-linejoin="round"/>
<path d="M1051.6 584.7 L1108.0 583.8 L1165.6 583.8 L1222.0 584.4 L1279.2 585.3" fill="none" stroke="#ffc60a" stroke-width="1.900" stroke-linejoin="round"/>
<path d="M1051.6 589.4 L1108.0 588.3 L1165.6 588.3 L1222.0 588.9 L1279.2 590.2" fill="none" stroke="#ff8d0a" stroke-width="1.900" stroke-linejoin="round"/>
<circle cx="1140.5" cy="638.2" r="6" fill="#0a6cff"/>
<circle cx="1193.1" cy="638.2" r="6" fill="#30c04f"/>
<circle cx="1245.6" cy="638.2" r="6" fill="#ffc60a"/>
<circle cx="1324.0" cy="638.2" r="6" fill="#ff8d0a"/>
</svg>
<span class="t" id="t66" style="top:18.1px;font-size:14.60px;line-height:16px;color:#111113;-webkit-text-stroke:0.20px #111113;left:15.76px;transform-origin:0 50%;transform:scaleX(1.1604);">Latency</span>
<span class="t" id="t67" style="top:39.5px;font-size:10.40px;line-height:11px;color:#8e8e93;letter-spacing:0.153px;left:16.60px;transform-origin:0 50%;transform:scaleX(1.0496);">iCloud.com.naturelab.forestexplorer</span>
<span class="t" id="t68" style="top:17.4px;font-size:15.30px;line-height:17px;color:#c6c6cb;letter-spacing:0.368px;left:284.85px;transform-origin:0 50%;transform:scaleX(1.0500);">Last Week</span>
<span class="t" id="t69" style="top:53px;font-size:12.80px;line-height:15px;color:#6a6a6f;letter-spacing:0.067px;left:367.30px;">150 ms</span>
<span class="t" id="t70" style="top:79px;font-size:12.80px;line-height:15px;color:#6a6a6f;letter-spacing:0.067px;left:367.30px;">100 ms</span>
<span class="t" id="t71" style="top:105px;font-size:12.80px;line-height:15px;color:#6a6a6f;letter-spacing:0.103px;left:367.30px;transform-origin:0 50%;transform:scaleX(1.0183);">50 ms</span>
<span class="t" id="t72" style="top:131.5px;font-size:12.80px;line-height:15px;color:#6a6a6f;letter-spacing:0.073px;left:367.30px;transform-origin:0 50%;transform:scaleX(1.0138);">0 µs</span>
<span class="t" id="t73" style="top:151.9px;font-size:12.80px;line-height:15px;color:#6a6a6f;letter-spacing:0.091px;left:17.10px;transform-origin:0 50%;transform:scaleX(1.0183);">Apr 4</span>
<span class="t" id="t74" style="top:151.9px;font-size:12.80px;line-height:15px;color:#6a6a6f;letter-spacing:0.091px;left:73.50px;transform-origin:0 50%;transform:scaleX(1.0183);">Apr 5</span>
<span class="t" id="t75" style="top:151.9px;font-size:12.80px;line-height:15px;color:#6a6a6f;letter-spacing:0.111px;left:131.10px;transform-origin:0 50%;transform:scaleX(1.0223);">Apr 6</span>
<span class="t" id="t76" style="top:152px;font-size:12.80px;line-height:15px;color:#6a6a6f;letter-spacing:0.083px;left:187.50px;">Apr 7</span>
<span class="t" id="t77" style="top:151.9px;font-size:12.80px;line-height:15px;color:#6a6a6f;letter-spacing:0.101px;left:244.70px;transform-origin:0 50%;transform:scaleX(1.0203);">Apr 8</span>
<span class="t" id="t78" style="top:151.9px;font-size:12.80px;line-height:15px;color:#6a6a6f;letter-spacing:0.091px;left:301.20px;transform-origin:0 50%;transform:scaleX(1.0183);">Apr 9</span>
<span class="t" id="t79" style="top:175px;font-size:13.20px;line-height:15px;color:#2c2c2e;letter-spacing:0.880px;left:117.70px;transform-origin:0 50%;transform:scaleX(1.0500);">p99</span>
<span class="t" id="t80" style="top:175px;font-size:13.20px;line-height:15px;color:#2c2c2e;letter-spacing:0.880px;left:170.30px;transform-origin:0 50%;transform:scaleX(1.0500);">p90</span>
<span class="t" id="t81" style="top:175px;font-size:13.20px;line-height:15px;color:#2c2c2e;letter-spacing:0.197px;left:222.80px;transform-origin:0 50%;transform:scaleX(1.0390);">average</span>
<span class="t" id="t82" style="top:175px;font-size:13.20px;line-height:15px;color:#2c2c2e;letter-spacing:0.737px;left:301.40px;transform-origin:0 50%;transform:scaleX(1.0500);">p50</span>
</section>
<section class="card" aria-label="Bandwidth" style="left:149px;top:677px;width:426px;height:426px">
<svg style="left:0;top:0" width="426" height="426" viewBox="149 677 426 426">
<circle cx="542.5" cy="702.7" r="1.80" fill="#c6c6cb"/>
<circle cx="549.4" cy="702.7" r="1.80" fill="#c6c6cb"/>
<circle cx="556.3" cy="702.7" r="1.80" fill="#c6c6cb"/>
<path d="M520.3 700.5l3.700 3.900 3.700-3.900" fill="none" stroke="#c6c6cb" stroke-width="1.300" stroke-linecap="round" stroke-linejoin="round"/>
<path d="M165.2 799.3V1038.5" stroke="#e0e0e6" stroke-width="1" stroke-dasharray="3.200 3.100" fill="none"/>
<path d="M224.4 799.3V1064.5" stroke="#e0e0e6" stroke-width="1" stroke-dasharray="3.200 3.100" fill="none"/>
<path d="M283.5 799.3V1064.5" stroke="#e0e0e6" stroke-width="1" stroke-dasharray="3.200 3.100" fill="none"/>
<path d="M342.3 799.3V1064.5" stroke="#e0e0e6" stroke-width="1" stroke-dasharray="3.200 3.100" fill="none"/>
<path d="M401.1 799.3V1064.5" stroke="#e0e0e6" stroke-width="1" stroke-dasharray="3.200 3.100" fill="none"/>
<path d="M460.4 799.3V1064.5" stroke="#e0e0e6" stroke-width="1" stroke-dasharray="3.200 3.100" fill="none"/>
<path d="M519.3 799.3V1038.5" stroke="#e0e0e6" stroke-width="1" stroke-dasharray="3.200 3.100" fill="none"/>
<path d="M165.2 798.8H519.3" stroke="#e6e6ea" stroke-width="1.100" fill="none"/>
<path d="M165.2 858.5H519.3" stroke="#e6e6ea" stroke-width="1.100" fill="none"/>
<path d="M165.2 918.3H519.3" stroke="#e6e6ea" stroke-width="1.100" fill="none"/>
<path d="M165.2 978.3H519.3" stroke="#e6e6ea" stroke-width="1.100" fill="none"/>
<path d="M165.2 1038.0H519.3" stroke="#e6e6ea" stroke-width="1.100" fill="none"/>
<path d="M165.2 915.3 L224.4 946.6 L283.5 945.2 L342.3 898.7 L401.1 875.2 L460.4 900.8 L519.3 912.7" fill="none" stroke="#0a6cff" stroke-width="1.900" stroke-linejoin="round"/>
<path d="M165.200 1037.500H519.300" stroke="#30c04f" stroke-width="2" fill="none"/>
</svg>
<span class="t" id="t83" style="top:17.6px;font-size:14.60px;line-height:16px;color:#111113;-webkit-text-stroke:0.20px #111113;left:15.72px;transform-origin:0 50%;transform:scaleX(1.1958);">Bandwidth</span>
<span class="t" id="t84" style="top:39px;font-size:10.40px;line-height:11px;color:#8e8e93;letter-spacing:0.153px;left:16.60px;transform-origin:0 50%;transform:scaleX(1.0496);">iCloud.com.naturelab.forestexplorer</span>
<span class="t" id="t85" style="top:16.9px;font-size:15.30px;line-height:17px;color:#c6c6cb;letter-spacing:0.368px;left:284.85px;transform-origin:0 50%;transform:scaleX(1.0500);">Last Week</span>
<span class="t" id="t86" style="top:52.5px;font-size:34.60px;line-height:38px;color:#2a2a2c;-webkit-text-stroke:1.00px #2a2a2c;left:16.46px;transform-origin:0 50%;transform:scaleX(1.0792);">29 MB</span>
<span class="t" id="t87" style="top:95px;font-size:13.50px;line-height:15px;color:#8e8e93;letter-spacing:0.121px;left:17.10px;">Total</span>
<span class="t" id="t88" style="top:114px;font-size:12.80px;line-height:15px;color:#6a6a6f;letter-spacing:0.088px;left:379.20px;transform-origin:0 50%;transform:scaleX(1.0137);">8 MB</span>
<span class="t" id="t89" style="top:173.7px;font-size:12.80px;line-height:15px;color:#6a6a6f;letter-spacing:0.088px;left:379.20px;transform-origin:0 50%;transform:scaleX(1.0137);">6 MB</span>
<span class="t" id="t90" style="top:233.5px;font-size:12.80px;line-height:15px;color:#6a6a6f;letter-spacing:0.088px;left:379.20px;transform-origin:0 50%;transform:scaleX(1.0137);">4 MB</span>
<span class="t" id="t91" style="top:293.5px;font-size:12.80px;line-height:15px;color:#6a6a6f;letter-spacing:0.088px;left:379.20px;transform-origin:0 50%;transform:scaleX(1.0137);">2 MB</span>
<span class="t" id="t92" style="top:353px;font-size:12.80px;line-height:15px;color:#6a6a6f;letter-spacing:0.064px;left:379.20px;">0 B</span>
</section>
<section class="card" aria-label="Requests by Device Type" style="left:592px;top:677px;width:426px;height:205px">
<svg style="left:0;top:0" width="426" height="205" viewBox="592 677 426 205">
<circle cx="985.5" cy="702.7" r="1.80" fill="#c6c6cb"/>
<circle cx="992.4" cy="702.7" r="1.80" fill="#c6c6cb"/>
<circle cx="999.3" cy="702.7" r="1.80" fill="#c6c6cb"/>
<path d="M963.3 700.5l3.700 3.900 3.700-3.900" fill="none" stroke="#b9b9be" stroke-width="1.300" stroke-linecap="round" stroke-linejoin="round"/>
<circle cx="805" cy="804.200" r="63.800" fill="none" stroke="#e1e1e6" stroke-width="8"/>
</svg>
<span class="t" id="t93" style="top:17.6px;font-size:14.60px;line-height:16px;color:#111113;-webkit-text-stroke:0.20px #111113;left:15.76px;transform-origin:0 50%;transform:scaleX(1.1503);">Requests by Device Type</span>
<span class="t" id="t94" style="top:39px;font-size:10.40px;line-height:11px;color:#8e8e93;letter-spacing:0.153px;left:16.60px;transform-origin:0 50%;transform:scaleX(1.0496);">iCloud.com.naturelab.forestexplorer</span>
</section>
<section class="card" aria-label="Requests by OS Version" style="left:592px;top:898px;width:426px;height:205px">
<svg style="left:0;top:0" width="426" height="205" viewBox="592 898 426 205">
<circle cx="985.5" cy="924.2" r="1.80" fill="#c6c6cb"/>
<circle cx="992.4" cy="924.2" r="1.80" fill="#c6c6cb"/>
<circle cx="999.3" cy="924.2" r="1.80" fill="#c6c6cb"/>
<path d="M963.3 922.0l3.700 3.900 3.700-3.900" fill="none" stroke="#b9b9be" stroke-width="1.300" stroke-linecap="round" stroke-linejoin="round"/>
<circle cx="805" cy="1025.600" r="63.800" fill="none" stroke="#0a7aff" stroke-width="8"/>
</svg>
<span class="t" id="t95" style="top:18.1px;font-size:14.60px;line-height:16px;color:#111113;-webkit-text-stroke:0.20px #111113;left:15.78px;transform-origin:0 50%;transform:scaleX(1.1387);">Requests by OS Version</span>
<span class="t" id="t96" style="top:39.5px;font-size:10.40px;line-height:11px;color:#8e8e93;letter-spacing:0.153px;left:16.60px;transform-origin:0 50%;transform:scaleX(1.0496);">iCloud.com.naturelab.forestexplorer</span>
</section>
<section class="card" aria-label="Metadata Storage" style="left:1035px;top:677px;width:205px;height:205px">
<svg style="left:0;top:0" width="205" height="205" viewBox="1035 677 205 205">
<circle cx="1206.8" cy="701.2" r="1.70" fill="#c6c6cb"/>
<circle cx="1214.0" cy="701.2" r="1.70" fill="#c6c6cb"/>
<circle cx="1221.3" cy="701.2" r="1.70" fill="#c6c6cb"/>
<circle cx="1059.7" cy="779.2" r="8" fill="#8a8a8e"/>
<path d="M1056.8 782.1l5.400-5.400M1058.0 776.5h4.300v4.300" fill="none" stroke="#fff" stroke-width="1.400" stroke-linecap="round" stroke-linejoin="round"/>
<defs><linearGradient id="sp1" x1="0" y1="0" x2="0" y2="1"><stop offset="0" stop-color="#2fa4f2" stop-opacity=".28"/><stop offset="1" stop-color="#2fa4f2" stop-opacity=".08"/></linearGradient></defs>
<path d="M1034 820.800H1205.100V882H1034z" fill="url(#sp1)"/>
<path d="M1205.100 820.800H1240V882H1205.100z" fill="url(#sp1)" opacity=".45"/>
<path d="M1034 821.300L1120 820.800H1205.100" fill="none" stroke="#1a99ee" stroke-width="2"/>
<path d="M1205.100 820.800H1240" fill="none" stroke="#3aa6ee" stroke-width="1.100" stroke-dasharray="3 3"/>
</svg>
<span class="t" id="t97" style="top:16.2px;font-size:14.60px;line-height:16px;color:#111113;-webkit-text-stroke:0.20px #111113;left:15.75px;transform-origin:0 50%;transform:scaleX(1.1694);">Metadata Storage</span>
<span class="t" id="t98" style="top:36.6px;font-size:10.40px;line-height:11px;color:#8e8e93;letter-spacing:0.153px;left:16.60px;transform-origin:0 50%;transform:scaleX(1.0496);">iCloud.com.naturelab.forestexplorer</span>
<span class="t" id="t99" style="top:50px;font-size:34.60px;line-height:38px;color:#2a2a2c;-webkit-text-stroke:1.00px #2a2a2c;left:15.71px;transform-origin:0 50%;transform:scaleX(1.0603);">18.8 TB</span>
<span class="t" id="t100" style="top:94px;font-size:15.60px;line-height:17px;color:#77777c;letter-spacing:0.063px;left:39.60px;">0.51%</span>
<span class="t" id="t101" style="top:114.1px;font-size:13.50px;line-height:15px;color:#8e8e93;letter-spacing:0.190px;left:15.56px;transform-origin:0 50%;transform:scaleX(1.0412);">Latest</span>
</section>
<section class="card" aria-label="Asset Storage" style="left:1256px;top:677px;width:205px;height:205px">
<svg style="left:0;top:0" width="205" height="205" viewBox="1256 677 205 205">
<circle cx="1428.3" cy="701.2" r="1.70" fill="#c6c6cb"/>
<circle cx="1435.5" cy="701.2" r="1.70" fill="#c6c6cb"/>
<circle cx="1442.8" cy="701.2" r="1.70" fill="#c6c6cb"/>
<circle cx="1403.7" cy="749.7" r="8" fill="#8a8a8e"/>
<path d="M1399.9 749.7h7.600M1404.5 746.7l3 3-3 3" fill="none" stroke="#fff" stroke-width="1.400" stroke-linecap="round" stroke-linejoin="round"/>
<defs><linearGradient id="sp2" x1="0" y1="0" x2="0" y2="1"><stop offset="0" stop-color="#2fa4f2" stop-opacity=".28"/><stop offset="1" stop-color="#2fa4f2" stop-opacity=".08"/></linearGradient></defs>
<path d="M1256 810.500H1454.300V882H1256z" fill="url(#sp2)"/>
<path d="M1454.300 810.500H1462V882H1454.300z" fill="url(#sp2)" opacity=".45"/>
<path d="M1256 810.500H1454.300" fill="none" stroke="#1a99ee" stroke-width="2"/>
<path d="M1454.300 810.500H1462" fill="none" stroke="#3aa6ee" stroke-width="1.100" stroke-dasharray="3 3"/>
</svg>
<span class="t" id="t102" style="top:16.2px;font-size:14.60px;line-height:16px;color:#111113;-webkit-text-stroke:0.20px #111113;left:17.22px;transform-origin:0 50%;transform:scaleX(1.1531);">Asset Storage</span>
<span class="t" id="t103" style="top:36.6px;font-size:10.40px;line-height:11px;color:#8e8e93;letter-spacing:0.153px;left:17.10px;transform-origin:0 50%;transform:scaleX(1.0496);">iCloud.com.naturelab.forestexplorer</span>
<span class="t" id="t104" style="top:50px;font-size:34.60px;line-height:38px;color:#2a2a2c;-webkit-text-stroke:1.00px #2a2a2c;left:16.87px;transform-origin:0 50%;transform:scaleX(1.0695);">743 kB</span>
<span class="t" id="t105" style="top:63.8px;font-size:15.60px;line-height:17px;color:#77777c;letter-spacing:0.223px;left:162.80px;transform-origin:0 50%;transform:scaleX(1.0290);">0.0%</span>
<span class="t" id="t106" style="top:92.7px;font-size:13.50px;line-height:15px;color:#8e8e93;letter-spacing:0.190px;left:16.06px;transform-origin:0 50%;transform:scaleX(1.0412);">Latest</span>
</section>
<section class="card" aria-label="Active Devices" style="left:1035px;top:898px;width:205px;height:205px">
<svg style="left:0;top:0" width="205" height="205" viewBox="1035 898 205 205">
<circle cx="1206.8" cy="922.7" r="1.70" fill="#c6c6cb"/>
<circle cx="1214.0" cy="922.7" r="1.70" fill="#c6c6cb"/>
<circle cx="1221.3" cy="922.7" r="1.70" fill="#c6c6cb"/>
<defs><linearGradient id="sp3" x1="0" y1="0" x2="0" y2="1"><stop offset="0" stop-color="#2fa4f2" stop-opacity=".28"/><stop offset="1" stop-color="#2fa4f2" stop-opacity=".08"/></linearGradient></defs>
<path d="M1034 1031H1171.400V1104H1034z" fill="url(#sp3)"/>
<path d="M1171.400 1031H1240V1104H1171.400z" fill="url(#sp3)" opacity=".45"/>
<path d="M1034 1031H1171.400" fill="none" stroke="#1a99ee" stroke-width="2"/>
<path d="M1171.400 1031H1240" fill="none" stroke="#3aa6ee" stroke-width="1.100" stroke-dasharray="3 3"/>
</svg>
<span class="t" id="t107" style="top:16.7px;font-size:14.60px;line-height:16px;color:#111113;-webkit-text-stroke:0.20px #111113;left:16.72px;transform-origin:0 50%;transform:scaleX(1.1579);">Active Devices</span>
<span class="t" id="t108" style="top:37.1px;font-size:10.40px;line-height:11px;color:#8e8e93;letter-spacing:0.153px;left:16.60px;transform-origin:0 50%;transform:scaleX(1.0496);">iCloud.com.naturelab.forestexplorer</span>
<span class="t" id="t109" style="top:50.5px;font-size:34.60px;line-height:38px;color:#2a2a2c;-webkit-text-stroke:1.00px #2a2a2c;left:16.90px;transform-origin:0 50%;transform:scaleX(0.7353);">1</span>
<span class="t" id="t110" style="top:93.6px;font-size:13.50px;line-height:15px;color:#8e8e93;letter-spacing:0.083px;left:16.60px;transform-origin:0 50%;transform:scaleX(1.0154);">Average</span>
</section>
<section class="card" aria-label="Active Users" style="left:1256px;top:898px;width:205px;height:205px">
<svg style="left:0;top:0" width="205" height="205" viewBox="1256 898 205 205">
<circle cx="1428.3" cy="922.7" r="1.70" fill="#c6c6cb"/>
<circle cx="1435.5" cy="922.7" r="1.70" fill="#c6c6cb"/>
<circle cx="1442.8" cy="922.7" r="1.70" fill="#c6c6cb"/>
<circle cx="1309.9" cy="971.0" r="8" fill="#8a8a8e"/>
<path d="M1307.0 973.9l5.400-5.400M1308.2 968.3h4.300v4.300" fill="none" stroke="#fff" stroke-width="1.400" stroke-linecap="round" stroke-linejoin="round"/>
<path d="M1256 1046L1312 1046 1317.800 1037.600 1324 1046 1388 1046 1392.800 1030.600 1398 1046 1436 1046 1440 1037.400H1447" fill="none" stroke="#1a99ee" stroke-width="2" stroke-linejoin="round"/>
<path d="M1447 1037.400H1462" fill="none" stroke="#3aa6ee" stroke-width="1.100" stroke-dasharray="3 3"/>
</svg>
<span class="t" id="t111" style="top:16.7px;font-size:14.60px;line-height:16px;color:#111113;-webkit-text-stroke:0.20px #111113;left:17.22px;transform-origin:0 50%;transform:scaleX(1.1503);">Active Users</span>
<span class="t" id="t112" style="top:37.1px;font-size:10.40px;line-height:11px;color:#8e8e93;letter-spacing:0.153px;left:17.10px;transform-origin:0 50%;transform:scaleX(1.0496);">iCloud.com.naturelab.forestexplorer</span>
<span class="t" id="t113" style="top:50.5px;font-size:34.60px;line-height:38px;color:#2a2a2c;-webkit-text-stroke:1.00px #2a2a2c;left:17.24px;transform-origin:0 50%;transform:scaleX(1.1222);">9</span>
<span class="t" id="t114" style="top:64.2px;font-size:15.60px;line-height:17px;color:#77777c;letter-spacing:0.142px;left:68.38px;transform-origin:0 50%;transform:scaleX(1.0201);">12.5%</span>
<span class="t" id="t115" style="top:93.6px;font-size:13.50px;line-height:15px;color:#8e8e93;letter-spacing:0.190px;left:16.06px;transform-origin:0 50%;transform:scaleX(1.0412);">Latest</span>
</section>
</main>
</body>
</html>
